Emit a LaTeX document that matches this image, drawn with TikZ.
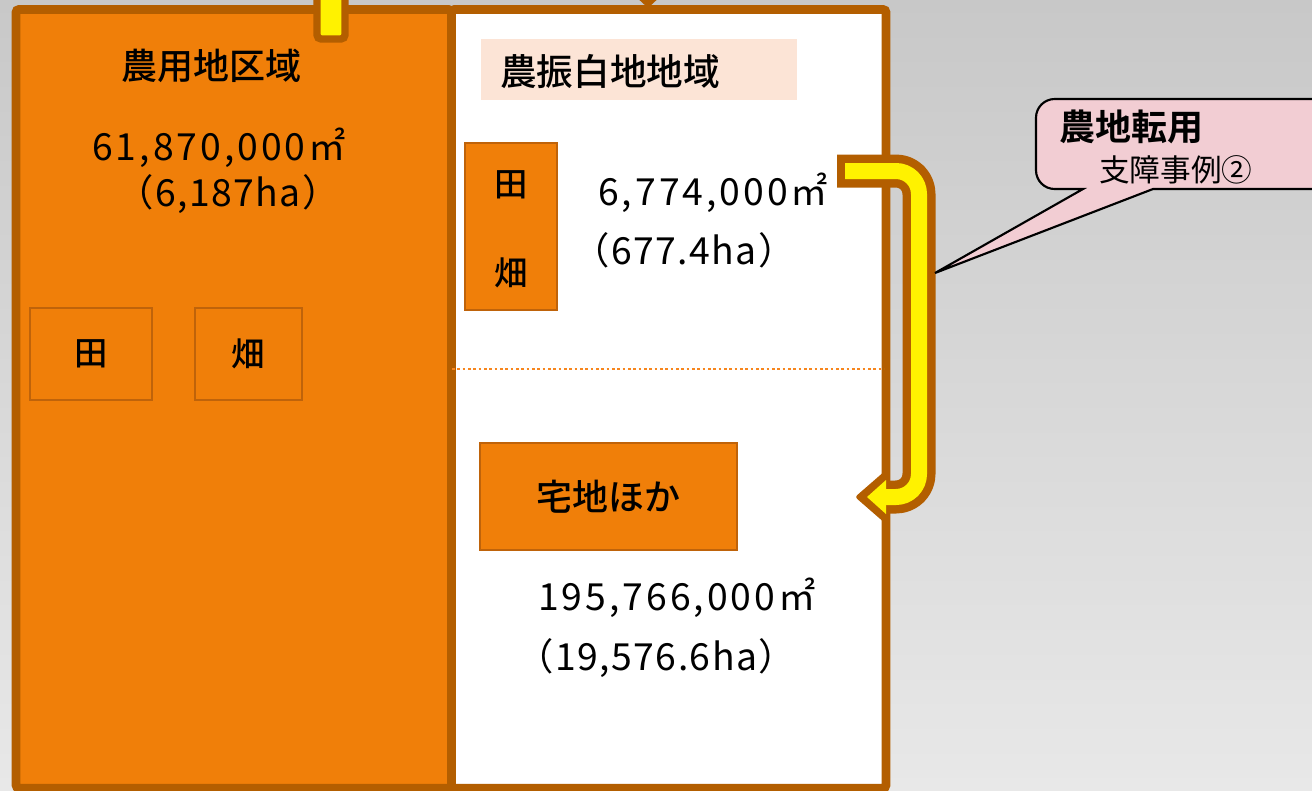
\documentclass[tikz,border=0pt]{standalone}
\usepackage{fontspec}
\setmainfont{Noto Sans CJK JP Medium}[BoldFont={Noto Sans CJK JP Bold}]
\newfontfamily\numfont[LetterSpace=8]{Noto Sans CJK JP}
\newfontfamily\parfont[LetterSpace=4]{Noto Sans CJK JP}
\newfontfamily\regfont{Noto Sans CJK JP}
\definecolor{brn}{HTML}{B35E00}
\definecolor{org}{HTML}{F07F09}
\definecolor{orgedge}{HTML}{BF630A}
\definecolor{peach}{HTML}{FCE4D6}
\definecolor{pinkc}{HTML}{F2CDD3}
\definecolor{dotc}{HTML}{F7861E}
\definecolor{bgtop}{HTML}{C8C8C8}
\definecolor{bgbot}{HTML}{E8E8E8}
\tikzset{
  lbl/.style={inner sep=0pt, text=black},
  numtxt/.style={inner sep=0pt, anchor=base west, text=black, font=\numfont\fontsize{28}{30}\selectfont},
  partxt/.style={inner sep=0pt, anchor=base west, text=black, font=\parfont\fontsize{28}{30}\selectfont},
  obox/.style={draw=orgedge, fill=org, line width=1.5pt, inner sep=0pt},
  frame/.style={draw=brn, line width=6.4pt, rounded corners=2pt},
}
\begin{document}
\begin{tikzpicture}[x=0.75pt,y=-0.75pt]
\useasboundingbox (0,0) rectangle (1312,790);
\clip (0,0) rectangle (1312,790);
% background
\shade[top color=bgtop, bottom color=bgbot] (0,0) rectangle (1312,790);
% frames
\draw[frame, fill=org] (16,9.5) rectangle (451.5,788);
\draw[frame, fill=white] (451.5,9.5) rectangle (886,788);
% top cut-off arrows
\draw[draw=brn, fill=yellow, line width=5.5pt, rounded corners=3pt] (317,-20) rectangle (345,39);
\fill[brn] (618,-20) -- (678,-20) -- (648,8) -- cycle;
\fill[yellow] (634,-20) -- (662,-20) -- (648,-5) -- cycle;
% left content
\node[lbl, font=\fontsize{27}{30}\selectfont] (nyo) at (211,66) {農用地区域};
\node[numtxt] (nyoA) at (92,160) {61,870,000㎡};
\node[partxt] (nyoB) at (116,206) {（6,187ha）};
\node[obox, minimum width=91.5pt, minimum height=69pt, font=\fontsize{25}{28}\selectfont] (ta1) at (91,354) {田};
\node[obox, minimum width=80.25pt, minimum height=69pt, font=\fontsize{25}{28}\selectfont] (ha1) at (248.5,354) {畑};
% right content
\node[fill=peach, inner sep=0pt, minimum width=237pt, minimum height=45.75pt] (pbox) at (639,69.5) {};
\node[lbl, anchor=west, font=\fontsize{27.5}{30}\selectfont] (shiro) at (500,72) {農振白地地域};
\node[obox, minimum width=69pt, minimum height=125.25pt] (fbox) at (511,226.5) {};
\node[lbl, font=\fontsize{25}{28}\selectfont] (ta2) at (511,185) {田};
\node[lbl, font=\fontsize{25}{28}\selectfont] (ha2) at (511,273) {畑};
\node[numtxt] (fA) at (598,205) {6,774,000㎡};
\node[partxt] (fB) at (572,264) {（677.4ha）};
\draw[dotc, line width=2pt, dash pattern=on 2pt off 2pt] (452,369) -- (884,369);
\node[obox, minimum width=192.75pt, minimum height=80.25pt, font=\fontsize{27}{30}\selectfont] (taku) at (608.5,496.5) {宅地ほか};
\node[numtxt] (tA) at (538,610) {195,766,000㎡};
\node[partxt] (tB) at (516,670) {（19,576.6ha）};
% conversion arrow
\coordinate (aS) at (837,171);
\coordinate (aS2) at (845,171);
\coordinate (aE) at (884,497);
\draw[brn, line width=24.75pt, line join=round] (aS) -- (896,171) arc[start angle=-90, end angle=0, radius=23] -- (919,474) arc[start angle=0, end angle=90, radius=23] -- (aE);
\fill[brn, rounded corners=2pt] (855,497) -- (886,470) -- (886,524) -- cycle;
\fill[yellow] (867,497) -- (886,480) -- (886,514) -- cycle;
\draw[yellow, line width=12pt, line join=round] (aS2) -- (896,171) arc[start angle=-90, end angle=0, radius=23] -- (919,474) arc[start angle=0, end angle=90, radius=23] -- (aE);
% callout
\draw[fill=pinkc, draw=black, line width=1.6pt] (1083,189) -- (935,273) -- (1153,189) [rounded corners=14pt] -- (1340,189) -- (1340,99) -- (1036,99) -- (1036,189) [sharp corners] -- cycle;
\node[lbl, anchor=west, font=\bfseries\fontsize{27}{30}\selectfont] (tenyo) at (1059,127) {農地転用};
\node[lbl, anchor=west, font=\regfont\fontsize{23}{26}\selectfont] (shisho) at (1099,170) {支障事例②};
\end{tikzpicture}
\end{document}
